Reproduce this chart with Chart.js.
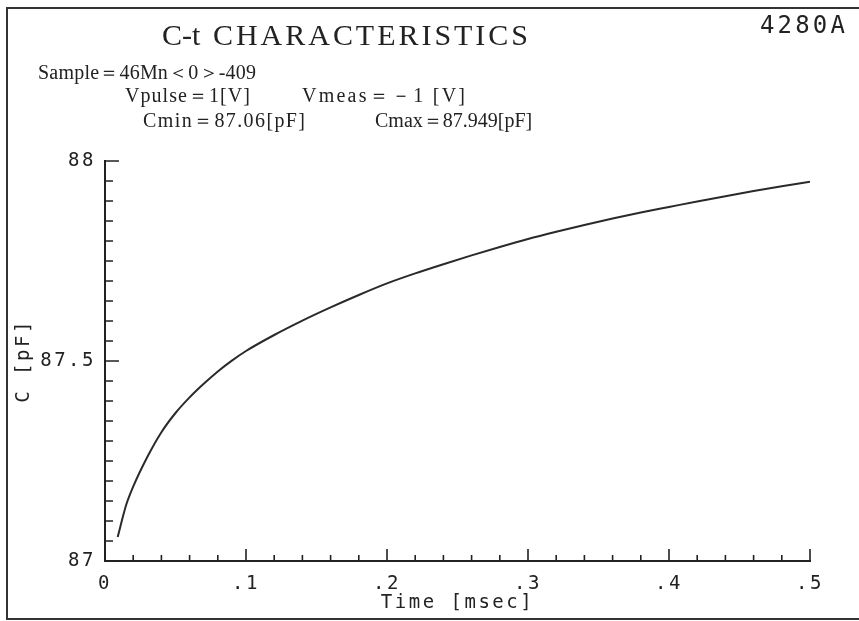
<!DOCTYPE html>
<html>
<head>
<meta charset="utf-8">
<script src="https://cdn.jsdelivr.net/npm/chart.js@4"></script>
<style>
	html, body { margin: 0; padding: 0; background: #fff; }
	#wrap { width: 859px; height: 621px; }
</style>
</head>
<body>
<div id="wrap"><canvas id="ctChart" width="859" height="621"></canvas></div>
<script>
// values (time in msec, capacitance in pF)
const timeMsec = [0.009, 0.015, 0.02, 0.03, 0.04, 0.05, 0.06, 0.07, 0.08, 0.09, 0.1,
	0.12, 0.14, 0.16, 0.18, 0.2, 0.22, 0.24, 0.26, 0.28, 0.3,
	0.32, 0.34, 0.36, 0.38, 0.4, 0.42, 0.44, 0.46, 0.48, 0.5];
const capPf = [87.06, 87.14, 87.186, 87.26, 87.322, 87.37, 87.409, 87.443, 87.474, 87.501, 87.525,
	87.565, 87.601, 87.634, 87.665, 87.694, 87.719, 87.742, 87.764, 87.785, 87.805,
	87.823, 87.84, 87.856, 87.871, 87.885, 87.899, 87.912, 87.925, 87.937, 87.948];

const xTickLabels = ["0", ".1", ".2", ".3", ".4", ".5"];
const yTickLabels = ["87", "87.5", "88"];

const titleParts = ["C-t", "CHARACTERISTICS"];
const modelText = "4280A";
const infoTexts = [
	"Sample＝46Mn＜0＞-409",
	"Vpulse＝1[V]", "Vmeas＝－1 [V]",
	"Cmin＝87.06[pF]", "Cmax＝87.949[pF]",
];

const ink = "#222";
const plotFont = "'DejaVu Sans Mono', monospace";
const serifFont = "'Liberation Serif', 'Times New Roman', serif";

const near = (v) => Math.abs(v - Math.round(v)) < 1e-6;

// draw a string so that it runs from x0 to x1
function spreadText(ctx, text, x0, x1, y) {
	ctx.letterSpacing = "0px";
	const w = ctx.measureText(text).width;
	const n = [...text].length;
	ctx.letterSpacing = `${Math.max(0, (x1 - x0 - w) / (n - 1))}px`;
	ctx.fillText(text, x0, y);
}

const paperBg = {
	id: "paperBg",
	beforeDraw(chart) {
		const ctx = chart.ctx;
		ctx.save();
		ctx.fillStyle = "#fff";
		ctx.fillRect(0, 0, chart.width, chart.height);
		ctx.restore();
		ctx.letterSpacing = "2.5px";
	},
};

// inward tick marks, longer at labelled values
const tickMarks = {
	id: "tickMarks",
	afterDraw(chart) {
		const { ctx, chartArea, scales } = chart;
		ctx.save();
		ctx.strokeStyle = ink;
		ctx.lineWidth = 1.6;
		ctx.beginPath();
		scales.x.ticks.forEach((t) => {
			const px = scales.x.getPixelForValue(t.value);
			const len = near(t.value * 10) ? 12 : 6;
			ctx.moveTo(px, chartArea.bottom);
			ctx.lineTo(px, chartArea.bottom - len);
		});
		scales.y.ticks.forEach((t) => {
			const py = scales.y.getPixelForValue(t.value);
			const len = near(t.value * 2) ? 14 : 8;
			ctx.moveTo(chartArea.left, py);
			ctx.lineTo(chartArea.left + len, py);
		});
		ctx.stroke();
		ctx.restore();
	},
};

const header = {
	id: "header",
	afterDraw(chart) {
		const ctx = chart.ctx;
		ctx.save();
		ctx.fillStyle = ink;
		ctx.textBaseline = "alphabetic";
		ctx.textAlign = "left";

		// frame
		ctx.strokeStyle = "#333";
		ctx.lineWidth = 2;
		ctx.beginPath();
		ctx.moveTo(859, 8);
		ctx.lineTo(7, 8);
		ctx.lineTo(7, 619);
		ctx.lineTo(859, 619);
		ctx.stroke();

		ctx.font = `30px ${serifFont}`;
		ctx.letterSpacing = "0px";
		ctx.fillText(titleParts[0], 162, 45);
		spreadText(ctx, titleParts[1], 213, 528, 45);

		ctx.font = `20px ${serifFont}`;
		spreadText(ctx, infoTexts[0], 38, 256, 79);
		spreadText(ctx, infoTexts[1], 125, 250, 102);
		spreadText(ctx, infoTexts[2], 302, 465, 102);
		spreadText(ctx, infoTexts[3], 143, 305, 127);
		spreadText(ctx, infoTexts[4], 375, 527, 127);

		ctx.letterSpacing = "0px";
		ctx.font = `24px ${plotFont}`;
		[...modelText].forEach((ch, i) => ctx.fillText(ch, 760 + i * 17.6, 33));
		ctx.restore();
	},
};

new Chart(document.getElementById("ctChart"), {
	type: "line",
	data: {
		datasets: [
			{
				data: timeMsec.map((t, i) => ({ x: t, y: capPf[i] })),
				borderColor: "#2a2a2a",
				borderWidth: 2,
				pointRadius: 0,
				cubicInterpolationMode: "monotone",
				fill: false,
			},
		],
	},
	options: {
		responsive: false,
		animation: false,
		devicePixelRatio: 1,
		layout: { padding: { top: 161, right: 49, bottom: 0, left: 0 } },
		plugins: { legend: { display: false }, tooltip: { enabled: false } },
		scales: {
			x: {
				type: "linear",
				min: 0,
				max: 0.5,
				afterFit: (s) => { s.height = 60; },
				grid: { drawOnChartArea: false, drawTicks: false },
				border: { display: true, color: ink, width: 2 },
				ticks: {
					stepSize: 0.02,
					autoSkip: false,
					maxRotation: 0,
					padding: 12,
					color: ink,
					font: { family: plotFont, size: 19 },
					callback: (v) => (near(v * 10) ? xTickLabels[Math.round(v * 10)] : ""),
				},
				title: {
					display: true,
					text: "Time [msec]",
					color: ink,
					font: { family: plotFont, size: 19 },
					padding: { top: 0, bottom: 7 },
				},
			},
			y: {
				min: 87,
				max: 88,
				afterFit: (s) => { s.width = 105; },
				grid: { drawOnChartArea: false, drawTicks: false },
				border: { display: true, color: ink, width: 2 },
				ticks: {
					stepSize: 0.05,
					autoSkip: false,
					padding: 9,
					color: ink,
					font: { family: plotFont, size: 19 },
					callback: (v) => (near(v * 2) ? yTickLabels[Math.round((v - 87) * 2)] : ""),
				},
				title: {
					display: true,
					text: "C [pF]",
					color: ink,
					font: { family: plotFont, size: 19 },
					padding: { top: 13, bottom: 0 },
				},
			},
		},
	},
	plugins: [paperBg, tickMarks, header],
});
</script>
</body>
</html>
